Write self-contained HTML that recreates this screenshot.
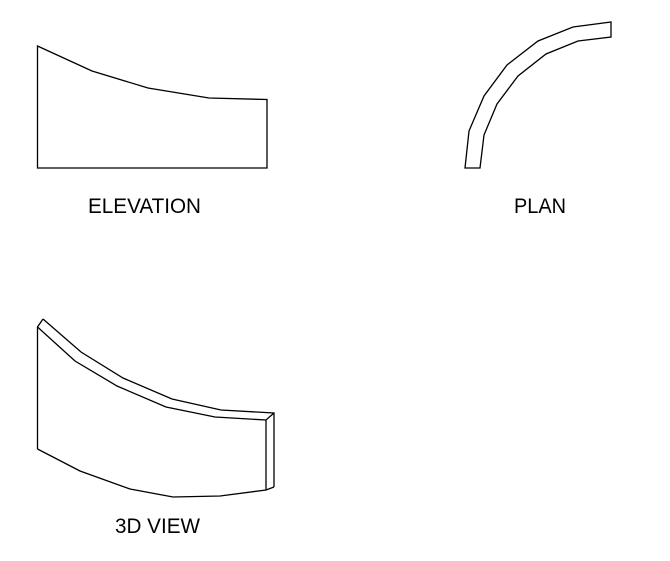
<!DOCTYPE html>
<html><head><style>
html,body{margin:0;padding:0;background:#fff;}
svg{display:block;}
text{font-family:"Liberation Sans",Arial,sans-serif;font-size:21px;fill:#000;}
</style></head><body>
<svg width="670" height="561" viewBox="0 0 670 561" xmlns="http://www.w3.org/2000/svg">
<g fill="none" stroke="#000" stroke-width="1.3" stroke-linejoin="miter">
<polygon points="37.5,46 92,71 148,88 209,98 267,99.5 267,168 37.5,168"/>
<polygon points="465,168 469,131 484,96 507,65 538,41 573,27 611,22 611,37 578,41 546,54 518,76 497,104 484,135 480,168"/>
<polyline points="37.5,449 37.5,327 43,319"/>
<polyline points="37.5,327 75,361 117,386 166,407 215,417 266,420 274,413"/>
<polyline points="43,319 81,352 123,378 172,399 221,410 274,413 274,487"/>
<polyline points="266,420 266,490"/>
<polyline points="37.5,449 80,471 130,489 173,497 220,496 266,490 274,487"/>
</g>
<text x="88" y="213" textLength="113" lengthAdjust="spacingAndGlyphs">ELEVATION</text>
<text x="514" y="213" textLength="52" lengthAdjust="spacingAndGlyphs">PLAN</text>
<text x="115" y="533" textLength="85" lengthAdjust="spacingAndGlyphs">3D VIEW</text>
</svg>
</body></html>
